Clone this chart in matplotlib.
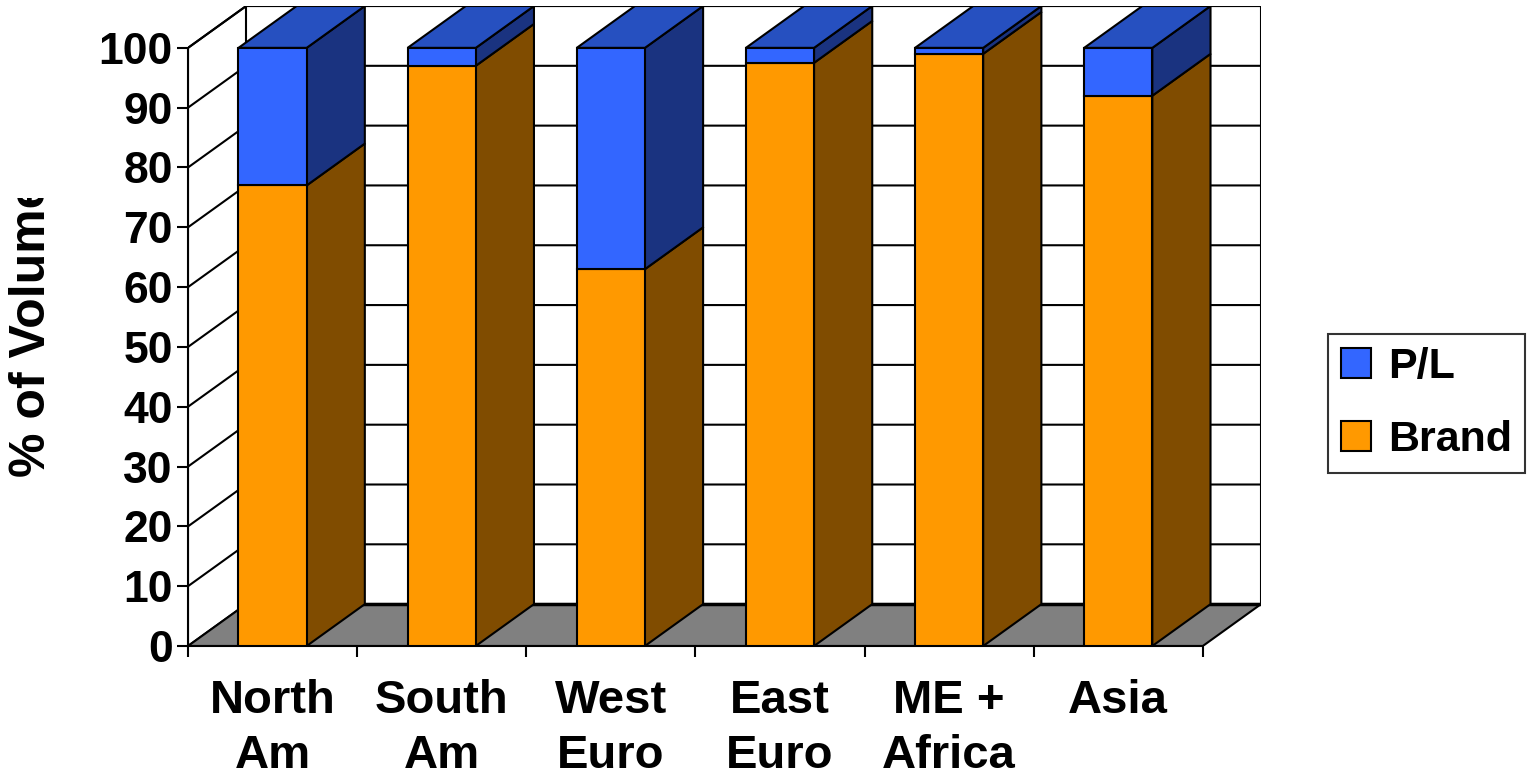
import matplotlib.pyplot as plt
from matplotlib.patches import Polygon, Patch, Rectangle

plt.rcParams['font.family'] = ['Liberation Sans', 'DejaVu Sans']
plt.rcParams['font.weight'] = 'bold'

regions = ["North\nAm", "South\nAm", "West\nEuro", "East\nEuro", "ME +\nAfrica", "Asia"]
brand = [77, 97, 63, 97.5, 99, 92]
pl = [23, 3, 37, 2.5, 1, 8]
yticks = list(range(0, 101, 10))

# oblique depth of the fake 3d box, in data units
DX = 0.344
DY = 7.0
BAR_W = 0.403

brand_cols = ("#FF9900", "#804C00", "#CC7A00")   # front, side, top
pl_cols = ("#3366FF", "#1A3380", "#2650C0")

fig = plt.figure(figsize=(15.32, 7.81), dpi=100)
W, H = 1532, 781
ax = fig.add_axes([188 / W, (H - 646) / H, (1261 - 188) / W, (646 - 6) / H])
n = len(regions)
ax.set_xlim(0, n + DX)
ax.set_ylim(0, 100 + DY)
ax.patch.set_visible(False)

lw = 1.5
# left wall, back wall, floor
ax.add_patch(Polygon([(0, 0), (DX, DY), (DX, 100 + DY), (0, 100)], closed=True,
                     facecolor="white", edgecolor="black", lw=lw, zorder=1))
ax.add_patch(Polygon([(DX, DY), (n + DX, DY), (n + DX, 100 + DY), (DX, 100 + DY)], closed=True,
                     facecolor="white", edgecolor="black", lw=lw, zorder=1))
ax.add_patch(Polygon([(0, 0), (n, 0), (n + DX, DY), (DX, DY)], closed=True,
                     facecolor="#808080", edgecolor="black", lw=lw, zorder=2))
ax.plot([DX, n + DX], [DY, DY], color="black", lw=2.5, zorder=2)
for v in yticks[1:]:
    ax.plot([0, DX, n + DX], [v, v + DY, v + DY], color="black", lw=lw, zorder=2)

def box(x0, y0, y1, cols, top=True):
    x1 = x0 + BAR_W
    ax.add_patch(Polygon([(x1, y0), (x1 + DX, y0 + DY), (x1 + DX, y1 + DY), (x1, y1)], closed=True,
                         facecolor=cols[1], edgecolor="black", lw=lw, zorder=3))
    if top:
        ax.add_patch(Polygon([(x0, y1), (x1, y1), (x1 + DX, y1 + DY), (x0 + DX, y1 + DY)], closed=True,
                             facecolor=cols[2], edgecolor="black", lw=lw, zorder=3))
    ax.add_patch(Rectangle((x0, y0), BAR_W, y1 - y0, facecolor=cols[0],
                           edgecolor="black", lw=lw, zorder=4))

for i in range(n):
    x0 = i + 0.5 - BAR_W / 2
    box(x0, 0, brand[i], brand_cols, top=pl[i] == 0)
    box(x0, brand[i], brand[i] + pl[i], pl_cols)

# axes lines and ticks
for s in ["top", "right"]:
    ax.spines[s].set_visible(False)
ax.spines["left"].set_bounds(0, 100)
ax.spines["bottom"].set_bounds(0, n)
ax.spines["left"].set_linewidth(lw)
ax.spines["bottom"].set_linewidth(lw)
ax.spines["left"].set_zorder(5)
ax.set_yticks(yticks)
ax.set_yticklabels([str(v) for v in yticks], fontsize=32, fontweight="bold")
ax.tick_params(axis="y", direction="out", length=8, width=lw, pad=3)
ax.set_xticks(range(n + 1))
ax.set_xticklabels([])
ax.tick_params(axis="x", which="major", direction="out", length=8, width=lw)
ax.set_xticks([i + 0.5 for i in range(n)], minor=True)
ax.set_xticklabels(regions, minor=True, fontsize=34, fontweight="bold", linespacing=1.3)
ax.tick_params(axis="x", which="minor", length=0, pad=24)

# y label, clipped at the top like the original
t = fig.text(32 / W, 1 - 477 / H, "% of Volume", rotation=90, rotation_mode="anchor",
             ha="left", va="center", fontsize=36, fontweight="bold")
clip = Rectangle((0, 0), 1, 1 - 198 / H, transform=fig.transFigure, visible=False)
fig.add_artist(clip)
t.set_clip_path(clip)

handles = [Patch(facecolor=pl_cols[0], edgecolor="black", lw=1.5, label="P/L"),
           Patch(facecolor=brand_cols[0], edgecolor="black", lw=1.5, label="Brand")]
leg = fig.legend(handles=handles, loc="center", bbox_to_anchor=(1426.5 / W, 1 - 403.5 / H),
                 fontsize=31, frameon=True, fancybox=False, edgecolor="black",
                 handlelength=0.7, handleheight=0.7, handletextpad=0.4,
                 labelspacing=0.75, borderpad=0.3, borderaxespad=0)
leg.get_frame().set_linewidth(1.5)
for txt in leg.get_texts():
    txt.set_fontweight("bold")

plt.savefig("out.png", dpi=100)
